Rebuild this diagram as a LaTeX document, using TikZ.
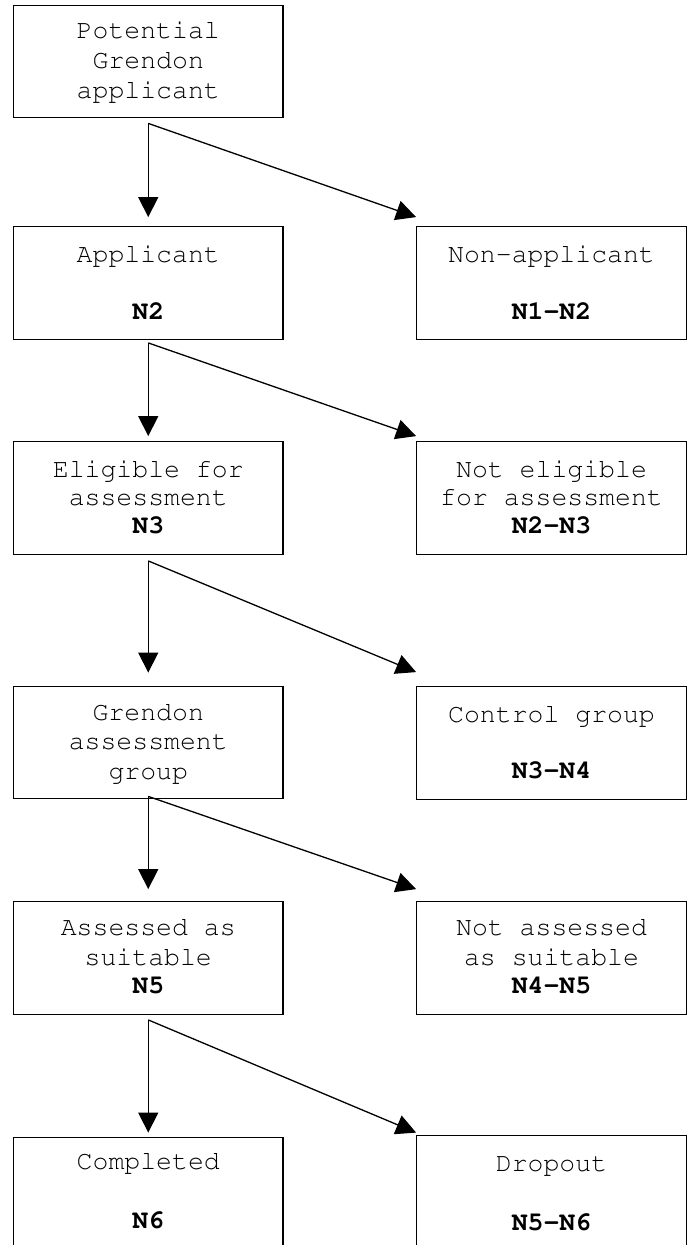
\documentclass[tikz,border=0pt]{standalone}
\usepackage[T1]{fontenc}
\usetikzlibrary{arrows.meta,calc}
\begin{document}
\begin{tikzpicture}[x=1pt,y=-1pt,
  box/.style={draw=black, line width=1.3pt, fill=white, inner sep=0pt,
              minimum width=269.5pt, minimum height=112.5pt},
  txt/.style={inner sep=0pt, anchor=base, text=black,
              font=\fontsize{26.5}{30}\fontfamily{pcr}\selectfont},
  num/.style={txt, font=\fontsize{26.5}{30}\fontfamily{pcr}\bfseries\selectfont},
  arr/.style={line width=1.3pt, -{Triangle[length=20pt,width=20pt]}}]
\useasboundingbox (0,0) rectangle (690,1245);
\clip (0,0) rectangle (690,1245);
\fill[white] (0,0) rectangle (690,1245);

% left column boxes
\node[box] (L1) at (148.25,61.5) {};
\node[box] (L2) at (148.25,283) {};
\node[box] (L3) at (148.25,498) {};
\node[box] (L4) at (148.25,742.5) {};
\node[box] (L5) at (148.25,958) {};
\node[box] (L6) at (148.25,1193.5) {};
% right column boxes
\node[box] (R2) at (551.5,283) {};
\node[box] (R3) at (551.5,498) {};
\node[box] (R4) at (551.5,743) {};
\node[box] (R5) at (551.5,958) {};
\node[box] (R6) at (551.5,1191.5) {};

% texts
\node[txt] (L1a) at (148.25,38) {Potential};
\node[txt] (L1b) at (148.25,68) {Grendon};
\node[txt] (L1c) at (148.25,98) {applicant};

\node[txt] (L2a) at (148.25,262) {Applicant};
\node[num] (L2b) at (148.25,319) {N2};
\node[txt] (R2a) at (551.5,262) {Non-applicant};
\node[num] (R2b) at (551.5,319) {N1-N2};

\node[txt] (L3a) at (148.25,477) {Eligible for};
\node[txt] (L3b) at (148.25,505) {assessment};
\node[num] (L3c) at (148.25,533) {N3};
\node[txt] (R3a) at (551.5,477) {Not eligible};
\node[txt] (R3b) at (551.5,505) {for assessment};
\node[num] (R3c) at (551.5,533) {N2-N3};

\node[txt] (L4a) at (148.25,720) {Grendon};
\node[txt] (L4b) at (148.25,749) {assessment};
\node[txt] (L4c) at (148.25,779) {group};
\node[txt] (R4a) at (551.5,722) {Control group};
\node[num] (R4b) at (551.5,778) {N3-N4};

\node[txt] (L5a) at (148.25,935) {Assessed as};
\node[txt] (L5b) at (148.25,965) {suitable};
\node[num] (L5c) at (148.25,993) {N5};
\node[txt] (R5a) at (551.5,935) {Not assessed};
\node[txt] (R5b) at (551.5,965) {as suitable};
\node[num] (R5c) at (551.5,993) {N4-N5};

\node[txt] (L6a) at (148.25,1169) {Completed};
\node[num] (L6b) at (148.25,1228) {N6};
\node[txt] (R6a) at (551.5,1171) {Dropout};
\node[num] (R6b) at (551.5,1230) {N5-N6};

% branch origins
\coordinate (s1) at ([yshift=-5pt]L1.south);
\coordinate (s2) at ([yshift=-3pt]L2.south);
\coordinate (s3) at ([yshift=-6pt]L3.south);
\coordinate (s4) at ([yshift=3pt]L4.south);
\coordinate (s5) at ([yshift=-5pt]L5.south);

% connectors
\draw[arr] (s1) -- ([yshift=9pt]L2.north);
\draw[arr] (s1) -- ([yshift=9pt]R2.north west);
\draw[arr] (s2) -- ([yshift=5pt]L3.north);
\draw[arr] (s2) -- ([yshift=5pt]R3.north west);
\draw[arr] (s3) -- ([yshift=13pt]L4.north);
\draw[arr] (s3) -- ([yshift=14pt]R4.north west);
\draw[arr] (s4) -- ([yshift=12pt]L5.north);
\draw[arr] (s4) -- ([yshift=12pt]R5.north west);
\draw[arr] (s5) -- ([yshift=4pt]L6.north);
\draw[arr] (s5) -- ([yshift=2pt]R6.north west);
\end{tikzpicture}
\end{document}
